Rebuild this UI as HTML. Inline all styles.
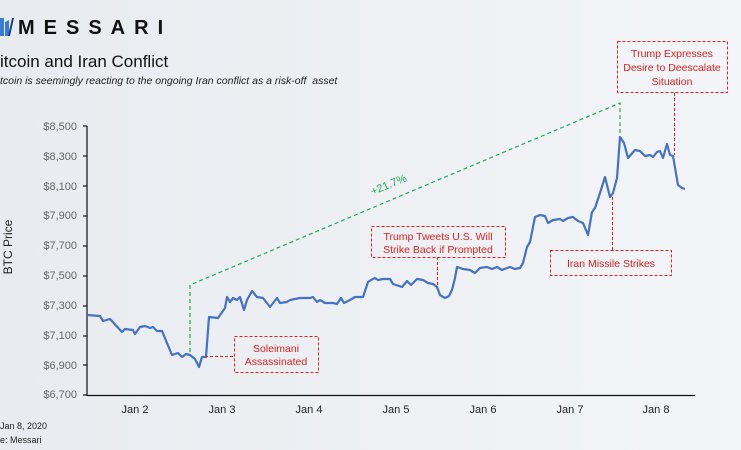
<!DOCTYPE html>
<html><head><meta charset="utf-8"><style>
html,body{margin:0;padding:0}
body{width:741px;height:450px;overflow:hidden;background:linear-gradient(90deg,#e8ebef,#f3f5f8);font-family:"Liberation Sans",sans-serif;position:relative}
.t{position:absolute;white-space:nowrap}
</style></head><body>
<svg width="741" height="450" style="position:absolute;left:0;top:0">
<path d="M0 18 L4 18 L4 36 L0 36 Z M5 22 L9 20 L9 36 L5 36 Z" fill="#3a7bd5"/>
<path d="M8 36 L12 18 L14 18 L10 36Z" fill="#1c3f7a"/>
<g font-family="Liberation Sans, sans-serif" fill="#666" font-size="11" text-anchor="end">
<text x="77" y="130">$8,500</text><text x="77" y="160">$8,300</text><text x="77" y="190">$8,100</text>
<text x="77" y="219">$7,900</text><text x="77" y="249">$7,700</text><text x="77" y="279">$7,500</text>
<text x="77" y="309">$7,300</text><text x="77" y="339">$7,100</text><text x="77" y="369">$6,900</text>
<text x="77" y="398">$6,700</text>
</g>
<g stroke="#111" stroke-width="1.2">
<line x1="87" y1="126" x2="87" y2="396"/><line x1="87" y1="395.5" x2="695" y2="395.5"/>
<line x1="83" y1="126" x2="87" y2="126"/><line x1="83" y1="156" x2="87" y2="156"/><line x1="83" y1="186" x2="87" y2="186"/>
<line x1="83" y1="216" x2="87" y2="216"/><line x1="83" y1="246" x2="87" y2="246"/><line x1="83" y1="276" x2="87" y2="276"/>
<line x1="83" y1="306" x2="87" y2="306"/><line x1="83" y1="336" x2="87" y2="336"/><line x1="83" y1="365" x2="87" y2="365"/>
<line x1="83" y1="395" x2="87" y2="395"/>
</g>
<g font-family="Liberation Sans, sans-serif" fill="#222" font-size="11" text-anchor="middle">
<text x="135" y="413">Jan 2</text><text x="222" y="413">Jan 3</text><text x="309" y="413">Jan 4</text>
<text x="396" y="413">Jan 5</text><text x="483" y="413">Jan 6</text><text x="570" y="413">Jan 7</text><text x="656" y="413">Jan 8</text>
</g>
<text x="12" y="247" transform="rotate(-90 12 247)" font-family="Liberation Sans, sans-serif" font-size="12" fill="#222" text-anchor="middle">BTC Price</text>
<polyline fill="none" stroke="#22aa55" stroke-width="1.2" stroke-dasharray="4,3" points="190,352 190,285 620,103 620,135"/>
<text x="390" y="188" transform="rotate(-22.5 390 188)" font-family="Liberation Sans, sans-serif" font-size="11" fill="#22aa55" text-anchor="middle">+21.7%</text>
<polyline fill="none" stroke="#4472c4" stroke-width="2.2" stroke-linejoin="round" points="
87,315 100,316 103,321 110,319 122,332 125,329 133,330 135,334 140,327 145,326 150,328 153,327 157,331 162,331 172,355 178,353 182,357 186,354 190,355 195,359 199,367 202,357 206,357 209,317 218,318 225,308 227,297 230,302 233,298 237,300 240,297 244,310 247,300 252,291 257,297 263,298 270,307 277,298 280,303 287,302 290,300 300,298 310,298 313,297 317,302 320,300 325,303 333,303 337,304 341,298 344,303 350,300 355,297 363,297 368,282 371,280 375,278 378,280 383,279 390,279 393,284 402,287 407,281 411,285 417,279 423,280 428,283 433,284 437,287 440,295 445,298 449,296 452,290 455,278 457,267 463,269 470,270 475,273 480,268 487,267 492,269 497,267 502,270 507,268 510,267 515,269 520,268 523,263 527,247 530,242 535,217 540,215 545,216 548,223 553,220 560,219 563,221 568,218 573,217 578,221 583,223 588,235 592,212 595,208 600,193 605,177 610,197 613,193 617,178 620,137 624,143 628,158 635,150 640,151 645,156 650,155 653,157 657,152 660,151 663,158 667,144 670,155 673,156 678,185 682,188 685,189"/>
<g fill="none" stroke="#e02020" stroke-width="1" stroke-dasharray="3,2">
<rect x="234.5" y="336.5" width="84" height="36"/><polyline points="205,356.5 234,356.5"/>
<rect x="371.5" y="226.5" width="134" height="31"/><polyline points="437.5,257 437.5,287"/>
<rect x="550.5" y="250.5" width="121" height="25"/><polyline points="612.5,197 612.5,250"/>
<rect x="617.5" y="41.5" width="110" height="51"/><polyline points="674.5,93 674.5,155"/>
</g>
<g font-family="Liberation Sans, sans-serif" fill="#e02020" font-size="10.5" text-anchor="middle">
<text x="276" y="352">Soleimani</text><text x="276" y="365">Assassinated</text>
<text x="438" y="240">Trump Tweets U.S. Will</text><text x="438" y="253">Strike Back if Prompted</text>
<text x="611" y="267">Iran Missile Strikes</text>
<text x="672" y="57">Trump Expresses</text><text x="672" y="71">Desire to Deescalate</text><text x="672" y="85">Situation</text>
</g>
</svg>
<div class="t" style="left:18px;top:17px;font-size:20px;font-weight:bold;letter-spacing:9px;color:#111">MESSARI</div>
<div class="t" style="left:0;top:52px;font-size:17px;color:#111">itcoin and Iran Conflict</div>
<div class="t" style="left:0;top:75px;font-size:10.5px;font-style:italic;color:#222">tcoin is seemingly reacting to the ongoing Iran conflict as a risk-off&nbsp; asset</div>
<div class="t" style="left:0;top:421px;font-size:9px;color:#222">Jan 8, 2020</div>
<div class="t" style="left:0;top:435px;font-size:9px;color:#222">e: Messari</div>
</body></html>
